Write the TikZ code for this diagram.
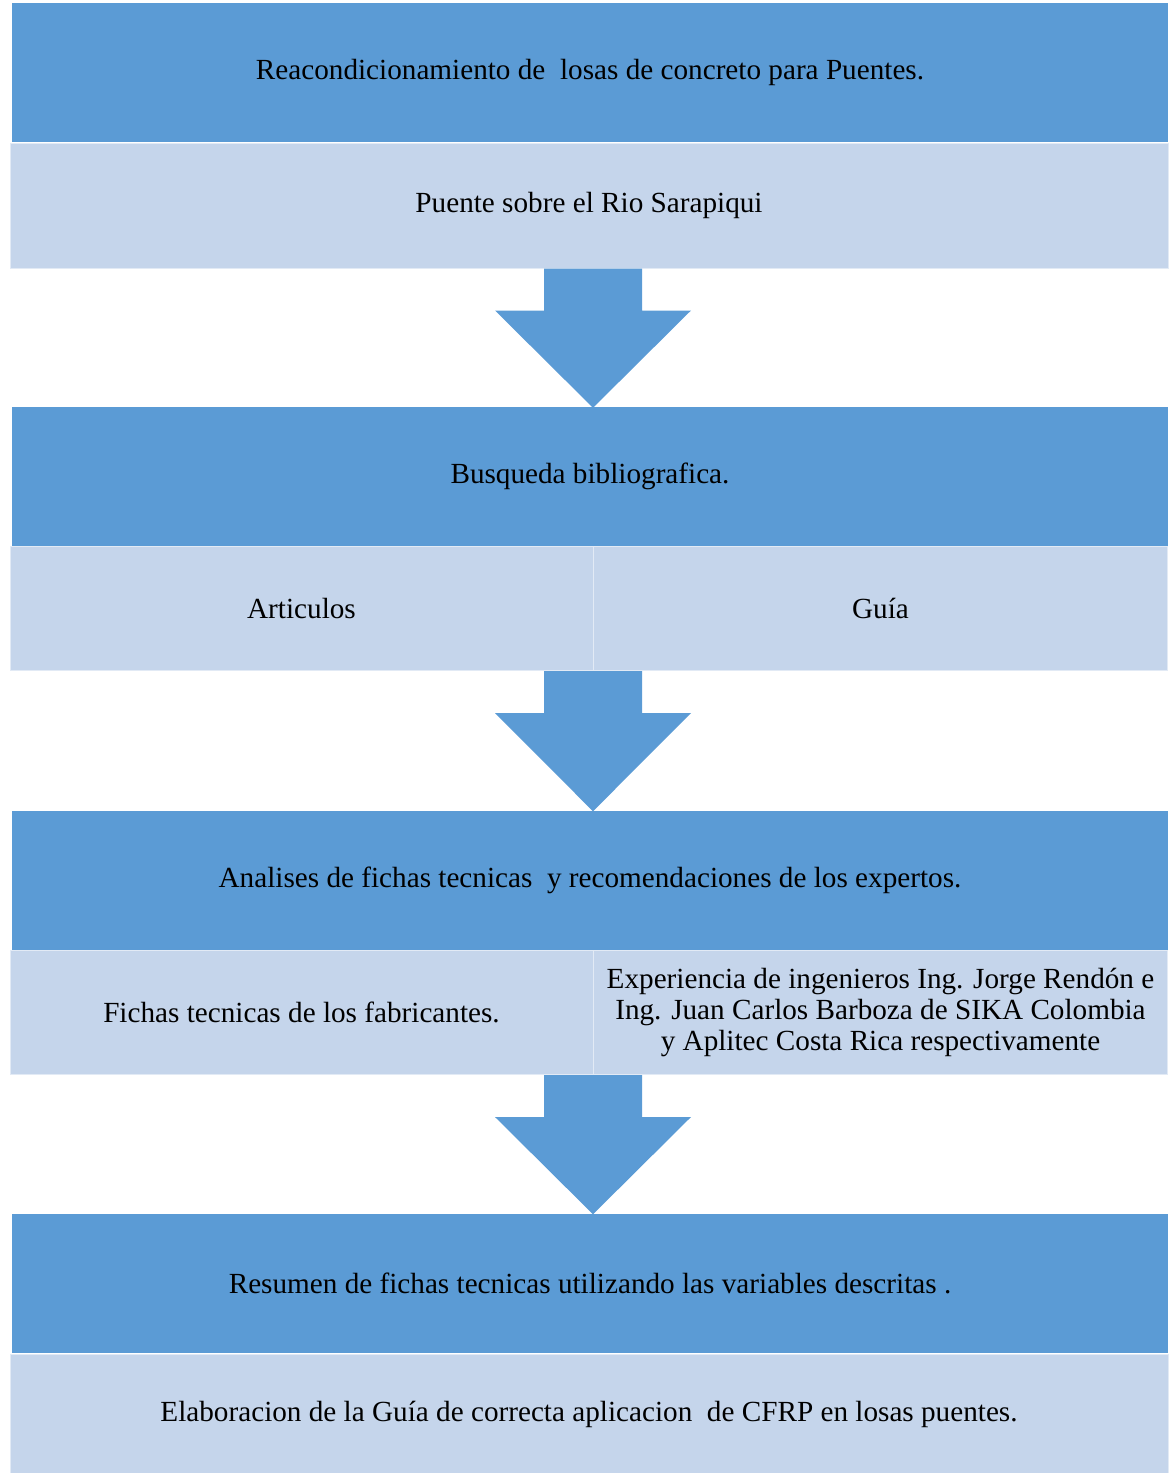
\documentclass[tikz,border=0pt]{standalone}
\usepackage{fontspec}
\setmainfont{Liberation Serif}
\usetikzlibrary{calc}
\definecolor{darkblue}{HTML}{5B9BD5}
\definecolor{lightblue}{HTML}{C5D5EB}
\newcommand{\bigarrow}[2]{%
  \fill[darkblue] let \p1=(#1.south), \p2=(#2.north) in
    (544,\y1) -- (642,\y1) -- (642,\y1-42) -- (691,\y1-42) -- (593,\y2-1)
    -- (495,\y1-42) -- (544,\y1-42) -- cycle;}
\begin{document}
\begin{tikzpicture}[x=1pt,y=-1pt,
  font=\fontsize{29.2}{31}\selectfont,
  darkbox/.style={fill=darkblue, draw=none, inner sep=0pt, align=center,
    minimum width=1156pt, minimum height=139pt},
  lightbox/.style={fill=lightblue, draw=lightblue!50!white, line width=1pt,
    inner sep=0pt, align=center},
  fullbox/.style={lightbox, minimum width=1158pt},
]
\useasboundingbox (0,0) rectangle (1168,1473);

% block 1
\node[darkbox] (d1) at (590,72.5) {Reacondicionamiento de\ \ losas de concreto para Puentes.};
\node[fullbox, minimum height=125pt] (l1) at (589,205.5) {Puente sobre el Rio Sarapiqui};

% block 2
\node[darkbox] (d2) at (590,476.5) {Busqueda bibliografica.};
\node[lightbox, minimum width=583pt, minimum height=124pt] (l2a) at (301.5,608.5) {Articulos};
\node[lightbox, minimum width=574pt, minimum height=124pt] (l2b) at (880.5,608.5) {Guía};

% block 3
\node[darkbox] (d3) at (590,880) {Analises de fichas tecnicas\ \ y recomendaciones de los expertos.};
\node[lightbox, minimum width=583pt, minimum height=124pt] (l3a) at (301.5,1012.5) {Fichas tecnicas de los fabricantes.};
\node[lightbox, minimum width=574pt, minimum height=124pt] (l3b) at (880.5,1012.5)
  {Experiencia de ingenieros Ing. Jorge Rendón e\\Ing. Juan Carlos Barboza de SIKA Colombia\\y Aplitec Costa Rica respectivamente};

% block 4
\node[darkbox] (d4) at (590,1283) {Resumen de fichas tecnicas utilizando las variables descritas .};
\node[fullbox, minimum height=120pt] (l4) at (589,1414) {Elaboracion de la Guía de correcta aplicacion\ \ de CFRP en losas puentes.};

% arrows
\bigarrow{l1}{d2}
\bigarrow{l2a}{d3}
\bigarrow{l3a}{d4}
\end{tikzpicture}
\end{document}
